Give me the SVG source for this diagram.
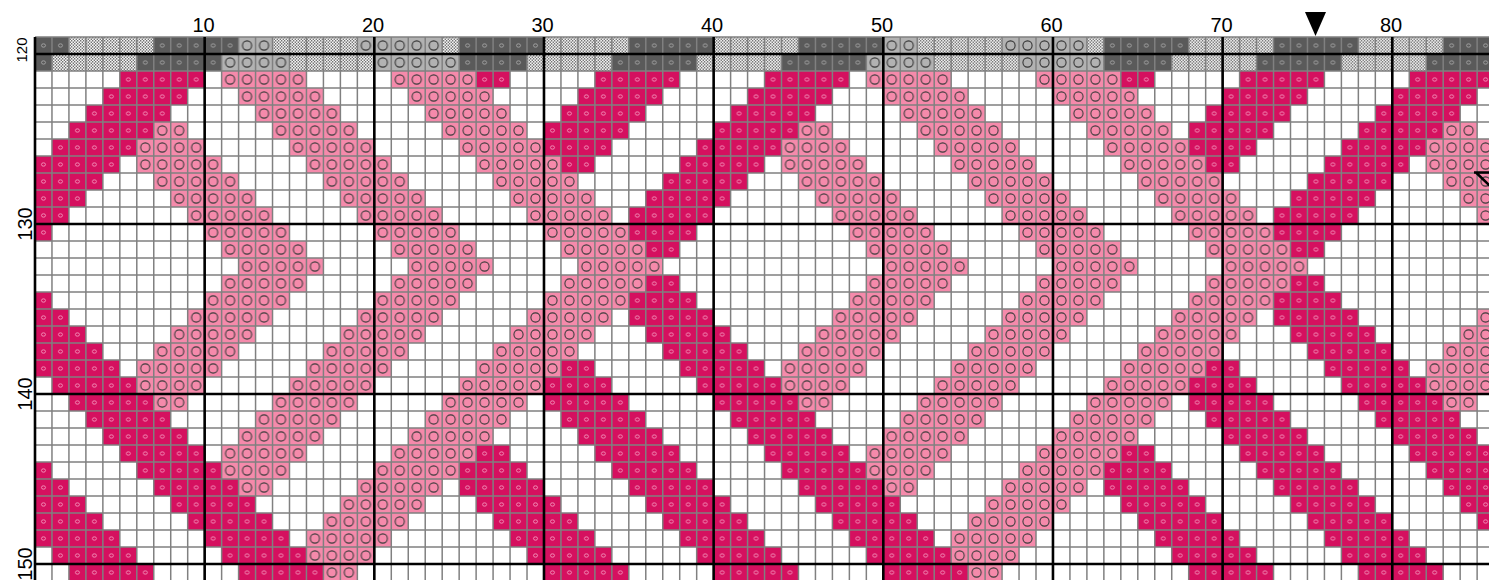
<svg xmlns="http://www.w3.org/2000/svg" width="1489" height="580" viewBox="0 0 1489 580">
<style>
.lbl{font-family:"Liberation Sans",Arial,sans-serif;font-size:20px;fill:#000;text-anchor:middle}
.thin{fill:none;stroke:#808080;stroke-width:.088}
.thick{fill:none;stroke:#000;stroke-width:.153}
.d{fill:url(#pd)}
.l{fill:url(#pl)}
.gd{fill:url(#pgd)}
.gl{fill:url(#pgl)}
</style>
<defs>
<pattern id="pd" patternUnits="userSpaceOnUse" width="1" height="1"><rect width="1" height="1" fill="#d5105f"/><ellipse cx=".5" cy=".5" rx=".12" ry=".1" fill="none" stroke="#f49cc0" stroke-width=".05"/></pattern>
<pattern id="pl" patternUnits="userSpaceOnUse" width="1" height="1"><rect width="1" height="1" fill="#f58aab"/><circle cx=".5" cy=".5" r=".27" fill="none" stroke="#3a3a3a" stroke-width=".065"/></pattern>
<pattern id="pgd" patternUnits="userSpaceOnUse" width="1" height="1"><rect width="1" height="1" fill="#5a5a5a"/><ellipse cx=".5" cy=".5" rx=".12" ry=".1" fill="none" stroke="#a8a8a8" stroke-width=".05"/></pattern>
<pattern id="pgl" patternUnits="userSpaceOnUse" width="1" height="1"><rect width="1" height="1" fill="#b2b2b2"/><circle cx=".5" cy=".5" r=".27" fill="none" stroke="#333" stroke-width=".065"/></pattern>
<pattern id="dots" patternUnits="userSpaceOnUse" width=".1768" height=".1765"><rect width=".1768" height=".1765" fill="#f7f7f7"/><circle cx=".044" cy=".044" r=".041" fill="#444"/><circle cx=".133" cy=".132" r=".041" fill="#444"/></pattern>
</defs>
<rect width="1489" height="580" fill="#fff"/>
<g id="col-labels">
<text class="lbl" x="203.5" y="32">10</text>
<text class="lbl" x="373" y="32">20</text>
<text class="lbl" x="542.5" y="32">30</text>
<text class="lbl" x="712" y="32">40</text>
<text class="lbl" x="882" y="32">50</text>
<text class="lbl" x="1051.5" y="32">60</text>
<text class="lbl" x="1221.5" y="32">70</text>
<text class="lbl" x="1391" y="32">80</text>
</g>
<g id="row-labels">
<text class="lbl" style="font-size:15px" transform="translate(27 50) rotate(-90)">120</text>
<text class="lbl" transform="translate(31.5 224) rotate(-90)">130</text>
<text class="lbl" transform="translate(31.5 394) rotate(-90)">140</text>
<text class="lbl" transform="translate(31.5 564) rotate(-90)">150</text>
</g>
<svg id="chart" x="33" y="35" width="1456" height="545" viewBox="-0.1179 -0.1176 85.818 32.059" preserveAspectRatio="none">
<rect id="done-rows-bg" x="0" y="0" width="86" height="2" fill="url(#dots)"/>
<g id="done-rows">
<path class="gd" d="M0 0h2v1H0zM7 0h5v1H7zM25 0h5v1H25zM35 0h5v1H35zM45 0h5v1H45zM63 0h5v1H63zM73 0h5v1H73zM83 0h3v1H83zM0 1h1v1H0zM6 1h5v1H6zM25 1h4v1H25zM34 1h5v1H34zM44 1h5v1H44zM63 1h4v1H63zM72 1h5v1H72zM82 1h4v1H82z"/>
<path class="gl" d="M12 0h2v1H12zM19 0h5v1H19zM50 0h2v1H50zM57 0h5v1H57zM11 1h4v1H11zM20 1h5v1H20zM49 1h4v1H49zM58 1h5v1H58z"/>
</g>
<g id="up">
<path class="d" d="M5 2h5v1H5zM26 2h2v1H26zM33 2h5v1H33zM43 2h5v1H43zM64 2h2v1H64zM71 2h5v1H71zM81 2h5v1H81zM4 3h5v1H4zM32 3h5v1H32zM42 3h5v1H42zM70 3h5v1H70zM80 3h5v1H80zM3 4h5v1H3zM31 4h5v1H31zM41 4h5v1H41zM69 4h5v1H69zM79 4h5v1H79zM2 5h5v1H2zM30 5h5v1H30zM40 5h5v1H40zM68 5h5v1H68zM78 5h5v1H78zM1 6h5v1H1zM30 6h4v1H30zM39 6h5v1H39zM68 6h4v1H68zM77 6h5v1H77zM0 7h5v1H0zM31 7h2v1H31zM38 7h5v1H38zM69 7h2v1H69zM76 7h5v1H76zM0 8h4v1H0zM37 8h5v1H37zM75 8h5v1H75zM0 9h3v1H0zM36 9h5v1H36zM74 9h5v1H74zM0 10h2v1H0zM35 10h5v1H35zM73 10h5v1H73zM0 11h1v1H0zM35 11h4v1H35zM73 11h4v1H73zM36 12h2v1H36zM74 12h2v1H74z"/>
<path class="l" d="M11 2h5v1H11zM21 2h5v1H21zM49 2h5v1H49zM59 2h5v1H59zM12 3h5v1H12zM22 3h5v1H22zM50 3h5v1H50zM60 3h5v1H60zM13 4h5v1H13zM23 4h5v1H23zM51 4h5v1H51zM61 4h5v1H61zM7 5h2v1H7zM14 5h5v1H14zM24 5h5v1H24zM45 5h2v1H45zM52 5h5v1H52zM62 5h5v1H62zM83 5h2v1H83zM6 6h4v1H6zM15 6h5v1H15zM25 6h5v1H25zM44 6h4v1H44zM53 6h5v1H53zM63 6h5v1H63zM82 6h4v1H82zM6 7h5v1H6zM16 7h5v1H16zM26 7h5v1H26zM44 7h5v1H44zM54 7h5v1H54zM64 7h5v1H64zM82 7h4v1H82zM7 8h5v1H7zM17 8h5v1H17zM27 8h5v1H27zM45 8h5v1H45zM55 8h5v1H55zM65 8h5v1H65zM83 8h3v1H83zM8 9h5v1H8zM18 9h5v1H18zM28 9h5v1H28zM46 9h5v1H46zM56 9h5v1H56zM66 9h5v1H66zM84 9h2v1H84zM9 10h5v1H9zM19 10h5v1H19zM29 10h5v1H29zM47 10h5v1H47zM57 10h5v1H57zM67 10h5v1H67zM85 10h1v1H85zM10 11h5v1H10zM20 11h5v1H20zM30 11h5v1H30zM48 11h5v1H48zM58 11h5v1H58zM68 11h5v1H68zM11 12h5v1H11zM21 12h5v1H21zM31 12h5v1H31zM49 12h5v1H49zM59 12h5v1H59zM69 12h5v1H69z"/>
</g>
<use href="#up" transform="matrix(1 0 0 -1 0 27)"/>
<g id="middle-and-low">
<path class="l" d="M12 13h5v1H12zM22 13h5v1H22zM32 13h5v1H32zM50 13h5v1H50zM60 13h5v1H60zM70 13h5v1H70z"/>
<path class="d" d="M0 25h1v1H0zM6 25h5v1H6zM25 25h4v1H25zM34 25h5v1H34zM44 25h5v1H44zM63 25h4v1H63zM72 25h5v1H72zM82 25h4v1H82zM0 26h2v1H0zM7 26h5v1H7zM25 26h5v1H25zM35 26h5v1H35zM45 26h5v1H45zM63 26h5v1H63zM73 26h5v1H73zM83 26h3v1H83zM0 27h3v1H0zM8 27h5v1H8zM26 27h5v1H26zM36 27h5v1H36zM46 27h5v1H46zM64 27h5v1H64zM74 27h5v1H74zM84 27h2v1H84zM0 28h4v1H0zM9 28h5v1H9zM27 28h5v1H27zM37 28h5v1H37zM47 28h5v1H47zM65 28h5v1H65zM75 28h5v1H75zM85 28h1v1H85zM0 29h5v1H0zM10 29h5v1H10zM28 29h5v1H28zM38 29h5v1H38zM48 29h5v1H48zM66 29h5v1H66zM76 29h5v1H76zM1 30h5v1H1zM11 30h5v1H11zM29 30h5v1H29zM39 30h5v1H39zM49 30h5v1H49zM67 30h5v1H67zM77 30h5v1H77zM2 31h5v1H2zM12 31h5v1H12zM30 31h5v1H30zM40 31h5v1H40zM50 31h5v1H50zM68 31h5v1H68zM78 31h5v1H78z"/>
<path class="l" d="M11 25h4v1H11zM20 25h5v1H20zM49 25h4v1H49zM58 25h5v1H58zM12 26h2v1H12zM19 26h5v1H19zM50 26h2v1H50zM57 26h5v1H57zM18 27h5v1H18zM56 27h5v1H56zM17 28h5v1H17zM55 28h5v1H55zM16 29h5v1H16zM54 29h5v1H54zM16 30h4v1H16zM54 30h4v1H54zM17 31h2v1H17zM55 31h2v1H55z"/>
</g>
<g id="grid">
<path class="thin" d="M0 0V32M1 0V32M2 0V32M3 0V32M4 0V32M5 0V32M6 0V32M7 0V32M8 0V32M9 0V32M10 0V32M11 0V32M12 0V32M13 0V32M14 0V32M15 0V32M16 0V32M17 0V32M18 0V32M19 0V32M20 0V32M21 0V32M22 0V32M23 0V32M24 0V32M25 0V32M26 0V32M27 0V32M28 0V32M29 0V32M30 0V32M31 0V32M32 0V32M33 0V32M34 0V32M35 0V32M36 0V32M37 0V32M38 0V32M39 0V32M40 0V32M41 0V32M42 0V32M43 0V32M44 0V32M45 0V32M46 0V32M47 0V32M48 0V32M49 0V32M50 0V32M51 0V32M52 0V32M53 0V32M54 0V32M55 0V32M56 0V32M57 0V32M58 0V32M59 0V32M60 0V32M61 0V32M62 0V32M63 0V32M64 0V32M65 0V32M66 0V32M67 0V32M68 0V32M69 0V32M70 0V32M71 0V32M72 0V32M73 0V32M74 0V32M75 0V32M76 0V32M77 0V32M78 0V32M79 0V32M80 0V32M81 0V32M82 0V32M83 0V32M84 0V32M85 0V32"/>
<path class="thin" d="M0 0H86M0 1H86M0 2H86M0 3H86M0 4H86M0 5H86M0 6H86M0 7H86M0 8H86M0 9H86M0 10H86M0 11H86M0 12H86M0 13H86M0 14H86M0 15H86M0 16H86M0 17H86M0 18H86M0 19H86M0 20H86M0 21H86M0 22H86M0 23H86M0 24H86M0 25H86M0 26H86M0 27H86M0 28H86M0 29H86M0 30H86M0 31H86M0 32H86"/>
<path class="thick" d="M0 0V32.5M10 0V32.5M20 0V32.5M30 0V32.5M40 0V32.5M50 0V32.5M60 0V32.5M70 0V32.5M80 0V32.5M0 1H86M0 11H86M0 21H86M0 31H86"/>
</g>
</svg>
<g id="markers">
<polygon points="1305,12 1326,12 1315.5,36" fill="#000"/>
<path d="M1474 172.5H1490M1476 172.5L1490 186" fill="none" stroke="#000" stroke-width="2.5"/>
</g>
</svg>
